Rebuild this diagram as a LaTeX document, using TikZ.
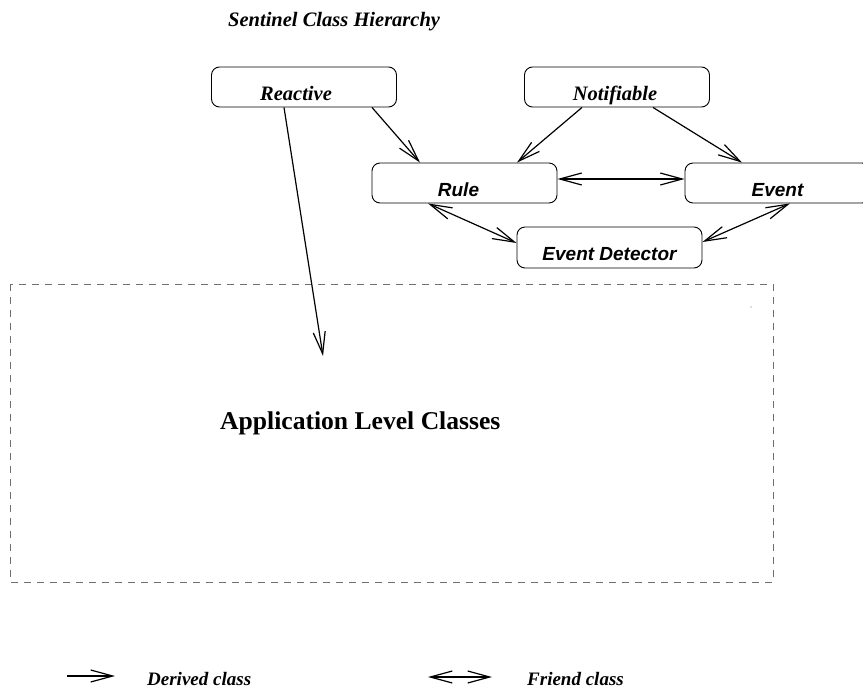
\documentclass[tikz,border=0pt]{standalone}
\usepackage{fontspec}
\setmainfont{Liberation Serif}
\newfontfamily\helv{Liberation Sans}
\usetikzlibrary{arrows.meta}
\definecolor{dashgray}{HTML}{707070}
\tikzset{
  classbox/.style={draw, rounded corners=8pt, line width=0.9pt, inner sep=0pt,
    minimum width=185pt, minimum height=40pt, text height=28pt, text depth=2pt},
  serifbox/.style={classbox, font=\fontsize{20.5}{24}\selectfont\bfseries\itshape},
  sansbox/.style={classbox, font=\fontsize{19}{23}\selectfont\helv\bfseries\itshape},
  link/.style={line width=1.2pt, >={Straight Barb[length=22pt,width=12pt]}},
  legendtext/.style={anchor=base west, inner sep=0pt, font=\fontsize{19}{23}\selectfont\bfseries\itshape}
}
\begin{document}
\begin{tikzpicture}[x=1pt, y=-1pt]
\clip (0,0) rectangle (863,688);
\fill[white] (0,0) rectangle (863,688);

% title
\node[anchor=base west, inner sep=0pt, font=\fontsize{20.5}{24}\selectfont\bfseries\itshape]
  (title) at (228,27) {Sentinel Class Hierarchy};

% class boxes
\node[serifbox] (reactive) at (304,87) {Reactive\kern16pt};
\node[serifbox] (notifiable) at (617,87) {Notifiable\kern4pt};
\node[sansbox] (rule) at (464.5,183) {Rule\kern12pt};
\node[sansbox] (event) at (777.5,183) {Event};
\node[sansbox, minimum height=41pt] (detector) at (609.5,247.5) {Event Detector};

% application area
\draw[dashgray, line width=1pt, dash pattern=on 7pt off 6pt] (10,284) rectangle (773,582);
\fill[dashgray] (751,307) circle (0.6pt);
\node[anchor=base west, inner sep=0pt, font=\fontsize{25.6}{30}\selectfont\bfseries]
  (app) at (220,429) {Application Level Classes};
\coordinate (apptip) at (323,356);

% derivation
\draw[link,->] ([xshift=68pt]reactive.south) -- ([xshift=-44.5pt]rule.north);
\draw[link,->] ([xshift=-35pt]notifiable.south) -- ([xshift=52.5pt]rule.north);
\draw[link,->] ([xshift=36pt]notifiable.south) -- ([xshift=-35.5pt]event.north);
\draw[link,->] ([xshift=-20pt]reactive.south) -- (apptip);

% friendship
\draw[link,<->] ([yshift=4pt]rule.east) -- ([yshift=4pt]event.west);
\draw[link,<->] ([xshift=-36.5pt]rule.south) -- ([yshift=4.5pt]detector.west);
\draw[link,<->] ([yshift=5.5pt]detector.east) -- ([xshift=12.5pt]event.south);

% legend
\coordinate (d1) at (67,676);
\coordinate (d2) at (115,676);
\draw[link,->] (d1) -- (d2);
\node[legendtext] (derived) at (147,685) {Derived class};
\coordinate (f1) at (428,677);
\coordinate (f2) at (492,677);
\draw[link,<->] (f1) -- (f2);
\node[legendtext] (friend) at (527,685) {Friend class};
\end{tikzpicture}
\end{document}
